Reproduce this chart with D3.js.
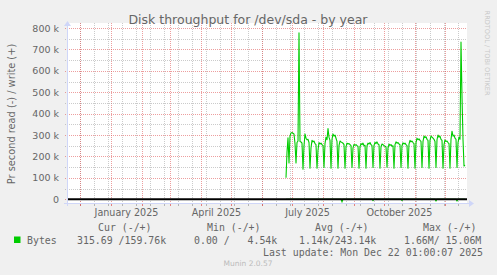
<!DOCTYPE html>
<html>
<head>
<meta charset="utf-8">
<script src="https://cdn.jsdelivr.net/npm/d3@7"></script>
<style>
  html, body { margin: 0; padding: 0; background: #f0f0f0; }
  svg { display: block; }
  text { font-family: "DejaVu Sans", sans-serif; fill: #666666; }
  .mono { font-family: "DejaVu Sans Mono", monospace; white-space: pre; }
</style>
</head>
<body>
<svg id="chart" width="497" height="275"></svg>
<script>
// data: daily averages, write (+) and read (-), in k bytes/s
const startDay = Date.UTC(2025, 5, 25);
const writeK = [
  100, 220, 287, 170, 295, 310, 312, 308, 305, 260,
  170, 265, 272, 777, 270, 268, 262, 140, 250, 305,
  285, 278, 280, 265, 145, 240, 275, 268, 272, 260,
  255, 145, 230, 265, 258, 262, 255, 250, 148, 260,
  290, 278, 330, 290, 275, 145, 280, 305, 295, 300,
  285, 270, 145, 250, 272, 268, 265, 262, 255, 145,
  245, 262, 258, 260, 255, 250, 148, 240, 256, 252,
  255, 250, 248, 145, 245, 260, 255, 262, 250, 252,
  145, 250, 262, 258, 265, 255, 250, 148, 252, 266,
  260, 268, 258, 255, 145, 245, 258, 255, 250, 248,
  245, 150, 240, 258, 252, 255, 248, 250, 145, 255,
  268, 262, 265, 258, 255, 148, 250, 264, 258, 262,
  255, 250, 145, 258, 275, 268, 272, 265, 260, 145,
  265, 285, 278, 282, 275, 270, 148, 270, 295, 288,
  292, 280, 275, 145, 275, 295, 290, 285, 280, 270,
  148, 278, 300, 290, 295, 280, 275, 145, 255, 277,
  270, 272, 265, 260, 145, 280, 318, 295, 300, 285,
  280, 148, 265, 290, 280, 734, 480, 280, 155, 160
];
const readSpikes = [
  { day: 56, k: 12 }, { day: 87, k: 6 }, { day: 116, k: 5 },
  { day: 150, k: 8 }, { day: 171, k: 8 }
];

const yMajor = [0, 100, 200, 300, 400, 500, 600, 700, 800];
const yLabels = ["0", "100 k", "200 k", "300 k", "400 k", "500 k", "600 k", "700 k", "800 k"];
const xLabels = [
  { date: Date.UTC(2025, 0, 1), text: "January 2025" },
  { date: Date.UTC(2025, 3, 1), text: "April 2025" },
  { date: Date.UTC(2025, 6, 1), text: "July 2025" },
  { date: Date.UTC(2025, 9, 1), text: "October 2025" }
];

const title = "Disk throughput for /dev/sda - by year";
const yTitle = "Pr second read (-) / write (+)";
const legendHead = ["Cur (-/+)", "Min (-/+)", "Avg (-/+)", "Max (-/+)"];
const legendVals = ["315.69 /159.76k", "0.00 /   4.54k", "1.14k/243.14k", "1.66M/ 15.06M"];
const lastUpdate = "Last update: Mon Dec 22 01:00:07 2025";

// layout
const plot = { left: 67, right: 467, top: 28, bottom: 203 };
const dayMs = 86400000;

const x = d3.scaleUtc()
  .domain([new Date(Date.UTC(2024, 10, 18)), new Date(Date.UTC(2025, 11, 23))])
  .range([plot.left, plot.right]);
const y = d3.scaleLinear()
  .domain([-17.5, 800])
  .range([plot.bottom, plot.top]);

const svg = d3.select("#chart");

// canvas
svg.append("rect")
  .attr("x", plot.left).attr("y", plot.top - 5)
  .attr("width", plot.right - plot.left).attr("height", plot.bottom - plot.top + 5)
  .attr("fill", "#ffffff");

const grid = svg.append("g").attr("shape-rendering", "crispEdges");
const minorCol = "rgba(140,140,140,0.45)";
const majorCol = "rgba(222,79,79,0.55)";

// vertical minor grid (every second sunday), major grid (monthly)
const anchor = Date.UTC(2024, 11, 15);
const weeks = d3.utcSunday.range(x.domain()[0], x.domain()[1])
  .filter(d => Math.round((d - anchor) / dayMs / 7) % 2 === 0);
const months = d3.utcMonth.range(x.domain()[0], x.domain()[1]);
grid.selectAll(".vmin").data(weeks).join("line")
  .attr("x1", d => Math.round(x(d)) + 0.5).attr("x2", d => Math.round(x(d)) + 0.5)
  .attr("y1", plot.top - 5).attr("y2", plot.bottom)
  .attr("stroke", minorCol).attr("stroke-dasharray", "1,1");
grid.selectAll(".vmaj").data(months).join("line")
  .attr("x1", d => Math.round(x(d)) + 0.5).attr("x2", d => Math.round(x(d)) + 0.5)
  .attr("y1", plot.top - 5).attr("y2", plot.bottom)
  .attr("stroke", majorCol).attr("stroke-dasharray", "1,1");

// horizontal minor grid every 50k, major every 100k
const yMinor = yMajor.slice(0, -1).map(v => v + 50);
grid.selectAll(".hmin").data(yMinor).join("line")
  .attr("x1", plot.left - 2).attr("x2", plot.right)
  .attr("y1", d => Math.round(y(d)) + 0.5).attr("y2", d => Math.round(y(d)) + 0.5)
  .attr("stroke", minorCol).attr("stroke-dasharray", "1,1");
grid.selectAll(".hmaj").data(yMajor).join("line")
  .attr("x1", plot.left - 2).attr("x2", plot.right)
  .attr("y1", d => Math.round(y(d)) + 0.5).attr("y2", d => Math.round(y(d)) + 0.5)
  .attr("stroke", majorCol).attr("stroke-dasharray", "1,1");

// x axis ticks
grid.selectAll(".tmin").data(weeks).join("line")
  .attr("x1", d => Math.round(x(d)) + 0.5).attr("x2", d => Math.round(x(d)) + 0.5)
  .attr("y1", plot.bottom + 1).attr("y2", plot.bottom + 3)
  .attr("stroke", "rgba(140,140,140,0.6)");
grid.selectAll(".tmaj").data(months).join("line")
  .attr("x1", d => Math.round(x(d)) + 0.5).attr("x2", d => Math.round(x(d)) + 0.5)
  .attr("y1", plot.bottom + 1).attr("y2", plot.bottom + 3)
  .attr("stroke", "rgba(222,79,79,0.7)");

// axes lines + arrows
const axisCol = "#CFD6F8";
svg.append("line")
  .attr("x1", plot.left - 3).attr("x2", plot.right + 3)
  .attr("y1", plot.bottom + 0.5).attr("y2", plot.bottom + 0.5)
  .attr("stroke", axisCol);
svg.append("line")
  .attr("x1", plot.left + 0.5).attr("x2", plot.left + 0.5)
  .attr("y1", plot.bottom + 3).attr("y2", plot.top - 3)
  .attr("stroke", axisCol);
svg.append("path")
  .attr("d", `M${plot.right + 2},${plot.bottom - 3}L${plot.right + 7},${plot.bottom + 0.5}L${plot.right + 2},${plot.bottom + 4}Z`)
  .attr("fill", axisCol);
svg.append("path")
  .attr("d", `M${plot.left - 3},${plot.top - 2}L${plot.left + 0.5},${plot.top - 7}L${plot.left + 4},${plot.top - 2}Z`)
  .attr("fill", axisCol);

// series
const writeLine = d3.line()
  .x((d, i) => x(new Date(startDay + i * dayMs)))
  .y(d => y(d));
svg.append("path")
  .datum(writeK)
  .attr("d", writeLine)
  .attr("fill", "none")
  .attr("stroke", "#00cc00")
  .attr("stroke-width", 1.1)
  .attr("stroke-linejoin", "round");

const readK = writeK.map(() => 0);
readSpikes.forEach(s => { readK[s.day] = -s.k; });
svg.append("path")
  .datum(readK)
  .attr("d", writeLine)
  .attr("fill", "none")
  .attr("stroke", "#00cc00")
  .attr("stroke-width", 1.1);

// zero rule
svg.append("line")
  .attr("x1", plot.left + 1).attr("x2", plot.right)
  .attr("y1", y(0)).attr("y2", y(0))
  .attr("stroke", "#000000").attr("stroke-width", 2);

// y labels
svg.append("g").selectAll("text").data(yMajor).join("text")
  .attr("x", 59).attr("y", d => y(d) + 3.5)
  .attr("text-anchor", "end")
  .attr("font-size", "9.5px")
  .text((d, i) => yLabels[i]);

// x labels, centered half a month after the month start
svg.append("g").selectAll("text").data(xLabels).join("text")
  .attr("x", d => x(new Date(d.date + 15.5 * dayMs)))
  .attr("y", 216)
  .attr("text-anchor", "middle")
  .attr("font-size", "9.6px")
  .text(d => d.text);

// titles
svg.append("text")
  .attr("x", 248).attr("y", 24)
  .attr("text-anchor", "middle")
  .attr("font-size", "12.5px")
  .text(title);
svg.append("text")
  .attr("transform", "translate(15,114) rotate(-90)")
  .attr("text-anchor", "middle")
  .attr("font-size", "9.8px")
  .text(yTitle);
svg.append("text")
  .attr("transform", "translate(485,53) rotate(90)")
  .attr("text-anchor", "middle")
  .attr("font-size", "6.6px")
  .style("fill", "#c8c8c8")
  .text("RRDTOOL / TOBI OETIKER");

// legend
const headX = [98, 207, 315, 423];
const valX = [77, 194, 299, 404];
svg.append("g").selectAll("text").data(legendHead).join("text")
  .attr("class", "mono")
  .attr("x", (d, i) => headX[i]).attr("y", 231)
  .attr("font-size", "9.9px")
  .text(d => d);
svg.append("rect")
  .attr("x", 14).attr("y", 236.5).attr("width", 6.5).attr("height", 6.5)
  .attr("fill", "#00cc00");
svg.append("text")
  .attr("class", "mono")
  .attr("x", 27).attr("y", 243.5)
  .attr("font-size", "9.9px")
  .text("Bytes");
svg.append("g").selectAll("text").data(legendVals).join("text")
  .attr("class", "mono")
  .attr("x", (d, i) => valX[i]).attr("y", 243.5)
  .attr("font-size", "9.9px")
  .text(d => d);
svg.append("text")
  .attr("class", "mono")
  .attr("x", 483).attr("y", 255.5)
  .attr("text-anchor", "end")
  .attr("font-size", "9.9px")
  .text(lastUpdate);
svg.append("text")
  .attr("x", 248).attr("y", 266)
  .attr("text-anchor", "middle")
  .attr("font-size", "7.5px")
  .style("fill", "#bbbbbb")
  .text("Munin 2.0.57");
</script>
</body>
</html>
